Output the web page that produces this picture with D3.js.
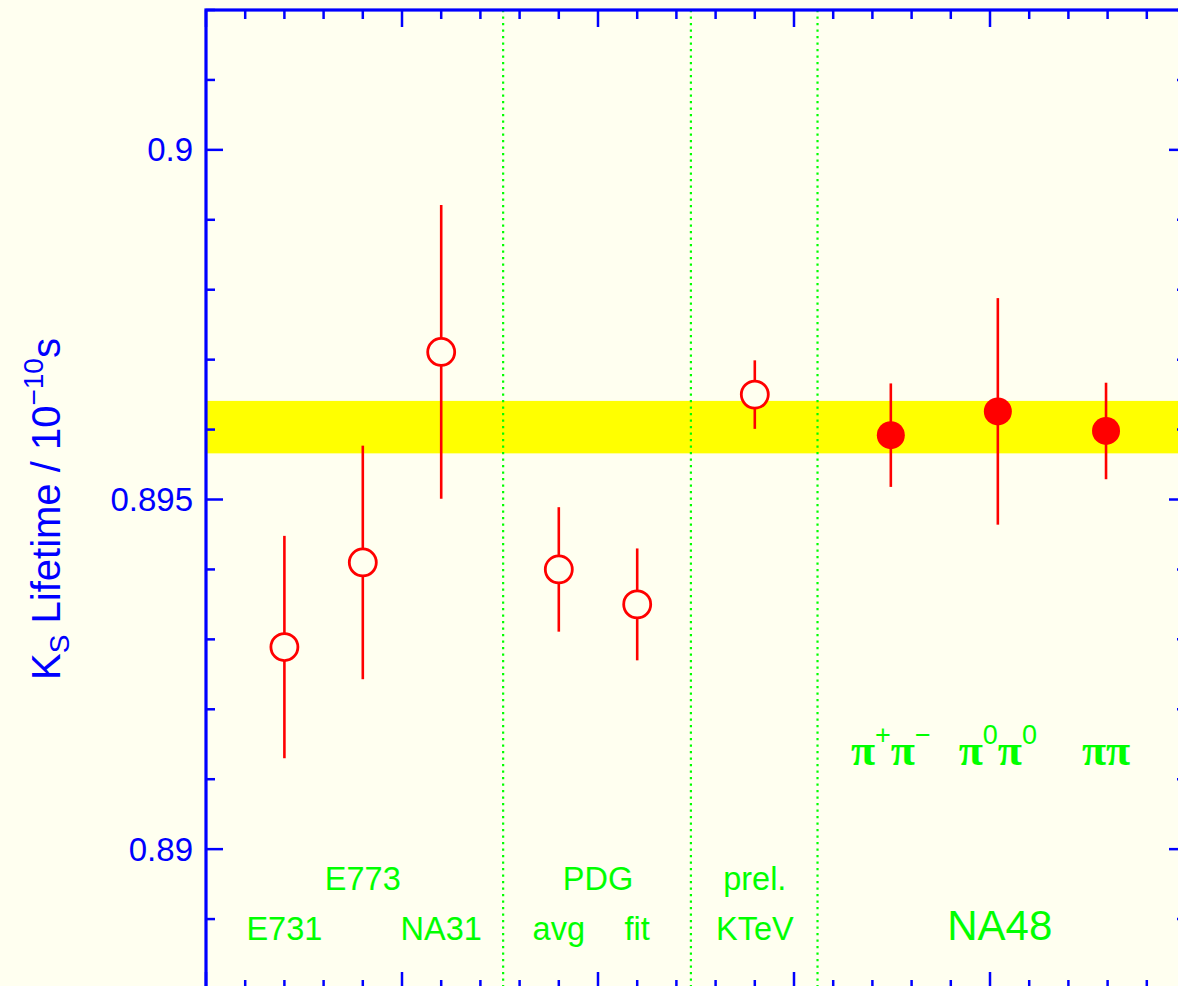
<!DOCTYPE html>
<html>
<head>
<meta charset="utf-8">
<script src="https://cdn.jsdelivr.net/npm/d3@7"></script>
<style>
  html, body { margin: 0; padding: 0; background: #fffff0; }
  svg { display: block; }
</style>
</head>
<body>
<div id="chart"></div>
<script>
// measurements of the K_S lifetime (units of 1e-10 s)
var experiments = ["E731", "E773", "NA31", "PDG avg", "PDG fit", "KTeV prel.", "NA48 pi+pi-", "NA48 pi0pi0", "NA48 pipi"];
var xPos = [2, 4, 6, 9, 11, 14, 17.47, 20.2, 22.96];
var lifetime = [0.89289, 0.8941, 0.89711, 0.894, 0.8935, 0.8965, 0.89592, 0.89626, 0.89598];
var errors = [0.00159, 0.00167, 0.0021, 0.00089, 0.0008, 0.00049, 0.00074, 0.00162, 0.00069];
var filled = [false, false, false, false, false, false, true, true, true];

var band = [0.89566, 0.89641];
var separators = [7.58, 12.37, 15.6];
var yTicks = [0.89, 0.895, 0.9];

// group labels below the points: [text, x, line]
var groupLabels = [
  ["E731", 2, 2], ["E773", 4, 1], ["NA31", 6, 2],
  ["PDG", 10, 1], ["avg", 9, 2], ["fit", 11, 2],
  ["prel.", 14, 1], ["KTeV", 14, 2]
];

document.addEventListener('DOMContentLoaded', function () {
  drawChart();
});

function drawChart() {
  var width = 1178;
  var height = 986;
  var left = 206, right = 1186, top = 10, bottom = 989;

  var svg = d3.select('#chart')
    .append('svg')
    .attr('width', width)
    .attr('height', height)
    .style('background', '#fffff0');

  var x = d3.scaleLinear().domain([0, 25]).range([left, right]);
  var y = d3.scaleLinear().domain([0.888, 0.902]).range([bottom, top]);

  // yellow average band
  svg.append('rect')
    .attr('x', x(0))
    .attr('width', x(25) - x(0))
    .attr('y', y(band[1]))
    .attr('height', y(band[0]) - y(band[1]))
    .attr('fill', '#ffff00');

  // dotted separators
  svg.selectAll('line.sep')
    .data(separators)
    .enter()
    .append('line')
    .attr('class', 'sep')
    .attr('x1', function(d) { return x(d); })
    .attr('x2', function(d) { return x(d); })
    .attr('y1', y(0.902))
    .attr('y2', y(0.888))
    .attr('stroke', '#00ff00')
    .attr('stroke-width', 2.2)
    .attr('stroke-dasharray', '2.2,4.3');

  // axes: ticks on all four sides
  var blue = '#0000ff';
  var minorX = d3.range(0, 26, 1);
  var minorY = d3.range(0.888, 0.90201, 0.001);

  function isMajorX(d) { return d % 5 === 0; }
  function isMajorY(d) { return Math.abs(Math.round(d * 1000) % 5) === 0; }

  [y(0.888), y(0.902)].forEach(function(yy, i) {
    var dir = i === 0 ? -1 : 1;
    svg.selectAll(null)
      .data(minorX)
      .enter()
      .append('line')
      .attr('x1', function(d) { return x(d); })
      .attr('x2', function(d) { return x(d); })
      .attr('y1', yy)
      .attr('y2', function(d) { return yy + dir * (isMajorX(d) ? 17 : 9); })
      .attr('stroke', blue)
      .attr('stroke-width', 2.5);
  });

  [x(0), x(25)].forEach(function(xx, i) {
    var dir = i === 0 ? 1 : -1;
    svg.selectAll(null)
      .data(minorY)
      .enter()
      .append('line')
      .attr('y1', function(d) { return y(d); })
      .attr('y2', function(d) { return y(d); })
      .attr('x1', xx)
      .attr('x2', function(d) { return xx + dir * (isMajorY(d) ? 17 : 9); })
      .attr('stroke', blue)
      .attr('stroke-width', 2.5);
  });

  svg.append('rect')
    .attr('x', x(0))
    .attr('y', y(0.902))
    .attr('width', x(25) - x(0))
    .attr('height', y(0.888) - y(0.902))
    .attr('fill', 'none')
    .attr('stroke', blue)
    .attr('stroke-width', 3.2);

  svg.selectAll('text.ytick')
    .data(yTicks)
    .enter()
    .append('text')
    .attr('class', 'ytick')
    .attr('x', x(0) - 13)
    .attr('y', function(d) { return y(d); })
    .attr('dy', '0.35em')
    .attr('text-anchor', 'end')
    .attr('font-family', 'Liberation Sans, Arial, sans-serif')
    .attr('font-size', 33)
    .attr('fill', blue)
    .text(function(d) { return String(d); });

  // y-axis title
  var title = svg.append('text')
    .attr('transform', 'translate(60,' + 509 + ') rotate(-90)')
    .attr('text-anchor', 'middle')
    .attr('font-family', 'Liberation Sans, Arial, sans-serif')
    .attr('font-size', 40)
    .attr('fill', blue);
  title.append('tspan').text('K');
  title.append('tspan').attr('font-size', 28).attr('dy', 9).text('S');
  title.append('tspan').attr('dy', -9).text(' Lifetime / 10');
  title.append('tspan').attr('font-size', 28).attr('dy', -17).text('\u221210');
  title.append('tspan').attr('dy', 17).text('s');

  // error bars
  var pts = experiments.map(function(name, i) {
    return { name: name, x: xPos[i], v: lifetime[i], e: errors[i], filled: filled[i] };
  });

  svg.selectAll('line.err')
    .data(pts)
    .enter()
    .append('line')
    .attr('class', 'err')
    .attr('x1', function(d) { return x(d.x); })
    .attr('x2', function(d) { return x(d.x); })
    .attr('y1', function(d) { return y(d.v + d.e); })
    .attr('y2', function(d) { return y(d.v - d.e); })
    .attr('stroke', '#ff0000')
    .attr('stroke-width', 2.6);

  svg.selectAll('circle.pt')
    .data(pts)
    .enter()
    .append('circle')
    .attr('class', 'pt')
    .attr('cx', function(d) { return x(d.x); })
    .attr('cy', function(d) { return y(d.v); })
    .attr('r', function(d) { return d.filled ? 14 : 13.5; })
    .attr('fill', function(d) { return d.filled ? '#ff0000' : '#fffff0'; })
    .attr('stroke', '#ff0000')
    .attr('stroke-width', function(d) { return d.filled ? 0 : 2.8; });

  // green labels
  var green = '#00ff00';
  svg.selectAll('text.grp')
    .data(groupLabels)
    .enter()
    .append('text')
    .attr('class', 'grp')
    .attr('x', function(d) { return x(d[1]); })
    .attr('y', function(d) { return d[2] === 1 ? 890 : 940; })
    .attr('text-anchor', 'middle')
    .attr('font-family', 'Liberation Sans, Arial, sans-serif')
    .attr('font-size', 32.5)
    .attr('fill', green)
    .text(function(d) { return d[0]; });

  svg.append('text')
    .attr('x', x(20.25))
    .attr('y', 940)
    .attr('text-anchor', 'middle')
    .attr('font-family', 'Liberation Sans, Arial, sans-serif')
    .attr('font-size', 42)
    .attr('fill', green)
    .text('NA48');

  // pion channel labels
  var channels = [
    [xPos[6], [['\u03c0', 0], ['+', 1], ['\u03c0', 0], ['\u2212', 1]]],
    [xPos[7], [['\u03c0', 0], ['0', 1], ['\u03c0', 0], ['0', 1]]],
    [xPos[8], [['\u03c0', 0], ['\u03c0', 0]]]
  ];
  channels.forEach(function(c) {
    var t = svg.append('text')
      .attr('x', x(c[0]))
      .attr('y', 765)
      .attr('text-anchor', 'middle')
      .attr('fill', green);
    var up = false;
    c[1].forEach(function(p) {
      var ts = t.append('tspan').text(p[0]);
      if (p[1]) {
        ts.attr('font-family', 'Liberation Sans, Arial, sans-serif')
          .attr('font-size', 27)
          .attr('dy', up ? 0 : -21);
        up = true;
      } else {
        ts.attr('font-family', 'Liberation Serif, Times New Roman, serif')
          .attr('font-size', 44)
          .attr('font-weight', 'bold')
          .attr('dy', up ? 21 : 0);
        up = false;
      }
    });
  });
}
</script>
</body>
</html>
